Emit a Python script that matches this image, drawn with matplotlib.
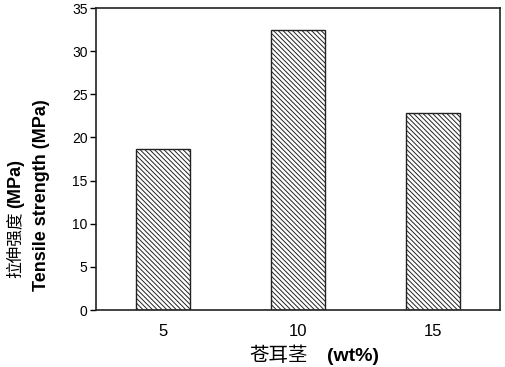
import matplotlib
matplotlib.use("Agg")
import matplotlib.pyplot as plt
import numpy as np

plt.rcParams["hatch.color"] = "#555555"
plt.rcParams["hatch.linewidth"] = 0.7

# data
categories = ["5", "10", "15"]
strength = [18.7, 32.4, 22.8]
yticks = [0, 5, 10, 15, 20, 25, 30, 35]

fig = plt.figure(figsize=(5.05, 3.67), dpi=100)
ax = fig.add_axes([96 / 505, 1 - 310 / 367, 404 / 505, 302 / 367])

x = np.arange(len(categories))
ax.bar(x, strength, width=0.4, color="white", edgecolor="#222222",
       linewidth=1.0, hatch="\\" * 7)

ax.set_xlim(-0.5, 2.5)
ax.set_ylim(0, 35)
ax.set_yticks(yticks)
ax.set_xticks(x)
ax.set_xticklabels(categories, fontfamily="Liberation Sans", fontsize=12)
ax.tick_params(axis="x", length=0, pad=10)
ax.tick_params(axis="y", direction="out", length=4, width=1,
               labelsize=10, pad=2)
for lab in ax.get_yticklabels():
    lab.set_fontfamily("Liberation Sans")
for sp in ax.spines.values():
    sp.set_linewidth(1.2)
    sp.set_color("#222222")

# x label: Chinese part + bold latin part
fig.text(308 / 505, 1 - 361 / 367, "苍耳茎", fontfamily="Noto Sans CJK SC",
         fontsize=14, ha="right", va="baseline")
fig.text(327 / 505, 1 - 361 / 367, "(wt%)", fontfamily="Liberation Sans",
         fontsize=14, fontweight="bold", ha="left", va="baseline")

# y label, first line: Chinese + bold (MPa)
fig.text(15 / 505, 1 - 278 / 367, "拉伸强度", fontfamily="Noto Sans CJK SC",
         fontsize=12, rotation=90, ha="center", va="bottom")
fig.text(16 / 505, 1 - 208 / 367, "(MPa)", fontfamily="Liberation Sans",
         fontsize=13, fontweight="bold", rotation=90, ha="center", va="bottom")
# second line
fig.text(42 / 505, 1 - 195 / 367, "Tensile strength (MPa)", fontfamily="Liberation Sans",
         fontsize=13, fontweight="bold", rotation=90, ha="center", va="center")

fig.savefig("out.png", dpi=100)
